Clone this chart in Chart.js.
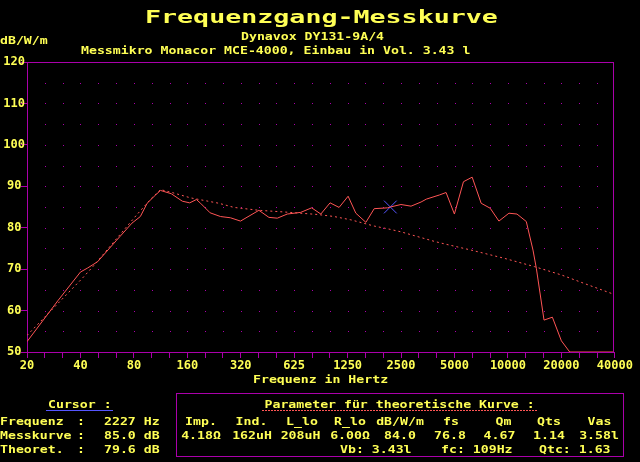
<!DOCTYPE html>
<html>
<head>
<meta charset="utf-8">
<script src="https://cdn.jsdelivr.net/npm/chart.js@4.4.1/dist/chart.umd.min.js"></script>
<style>
  html, body { margin: 0; padding: 0; background: #000; }
  canvas { display: block; }
</style>
</head>
<body>
<canvas id="kurve" width="640" height="462"></canvas>
<script>
// Messkurve (Hz / dB)
const messFreq = [20, 30, 40, 44, 50, 64, 78, 87, 95, 106, 113, 130, 150, 165, 180, 190, 215, 246, 280, 319, 405, 461, 514, 585, 696, 803, 904, 1019, 1146, 1288, 1424, 1622, 1807, 2151, 2227, 2557, 2913, 3317, 3553, 4208, 4590, 5113, 5750, 6437, 7236, 8135, 9107, 10370, 11513, 12990, 14170, 14800, 16350, 18220, 20480, 22820, 40000];
const messDb   = [52.5, 62.5, 69.3, 70.3, 71.8, 77.0, 81.1, 82.7, 85.9, 87.9, 89.0, 88.2, 86.4, 86.0, 86.8, 85.9, 83.6, 82.7, 82.4, 81.6, 84.2, 82.5, 82.3, 83.3, 83.7, 84.8, 83.3, 86.0, 84.9, 87.6, 83.5, 81.3, 84.6, 84.8, 85.0, 85.6, 85.2, 86.2, 86.9, 87.9, 88.5, 83.3, 91.1, 92.2, 85.9, 84.7, 81.6, 83.5, 83.3, 81.5, 74.6, 70.2, 57.7, 58.4, 52.7, 50.0, 50.0];

// theoretische Kurve
const theoFreq = [20, 25, 41, 47, 83, 100, 113, 131, 167, 241, 293, 405, 561, 865, 1074, 1335, 1807, 2227, 2557, 3943, 4590, 6353, 9797, 14470, 20480, 28970, 40000];
const theoDb   = [54.0, 58.3, 67.8, 70.6, 83.1, 87.0, 89.2, 88.5, 87.2, 85.9, 84.9, 84.2, 83.8, 83.2, 82.7, 81.9, 80.4, 79.6, 79.0, 76.7, 76.0, 74.6, 72.6, 70.6, 68.6, 66.2, 64.0];

const cursorFreq = [2227];
const cursorDb = [85.0];

const xTickLabels = ['20', '40', '80', '160', '320', '625', '1250', '2500', '5000', '10000', '20000', '40000'];
const yTicks = [50, 60, 70, 80, 90, 100, 110, 120];

const GELB = '#ffff55';
const MAGENTA = '#aa00aa';
const ROT = '#ff5555';
const BLAU = '#5555ff';
const FONT = '"DejaVu Sans Mono", "Liberation Mono", monospace';

// Terz-Teilung: 3 Striche pro Oktave
const terzen = [];
for (let k = 0; k <= 33; k++) terzen.push(20 * Math.pow(2, k / 3));

function schreibe(ctx, s, x, y, opt) {
  const o = Object.assign({ size: 11, sx: 1.2, align: 'left', color: GELB, bold: true }, opt || {});
  ctx.save();
  ctx.translate(x, y);
  ctx.scale(o.sx, 1);
  ctx.font = (o.bold ? 'bold ' : '') + o.size + 'px ' + FONT;
  ctx.fillStyle = o.color;
  ctx.textAlign = o.align;
  ctx.textBaseline = 'alphabetic';
  ctx.fillText(s, 0, 0);
  ctx.restore();
}

const deko = {
  id: 'deko',
  beforeDatasetsDraw(chart) {
    const { ctx, chartArea: a, scales: { x, y } } = chart;
    ctx.save();
    ctx.fillStyle = MAGENTA;
    for (let k = 1; k < terzen.length - 1; k++) {
      const px = Math.round(x.getPixelForValue(terzen[k]));
      for (let v = 55; v < 120; v += 5) {
        const py = Math.round(y.getPixelForValue(v));
        ctx.fillRect(px, py, 1, 1);
      }
    }
    ctx.strokeStyle = MAGENTA;
    ctx.lineWidth = 1;
    ctx.strokeRect(a.left + 0.5, a.top + 0.5, a.right - a.left, a.bottom - a.top);
    ctx.restore();
  },
  afterDraw(chart) {
    const ctx = chart.ctx;
    // Kopf
    schreibe(ctx, 'Frequenzgang-Messkurve', 145, 23, { size: 18, sx: 1.48 });
    schreibe(ctx, 'Dynavox DY131-9A/4', 241, 39.5);
    schreibe(ctx, 'dB/W/m', 0, 44);
    schreibe(ctx, 'Messmikro Monacor MCE-4000, Einbau in Vol. 3.43 l', 81, 54);
    schreibe(ctx, 'Frequenz in Hertz', 253, 383);

    // Cursor-Block
    schreibe(ctx, 'Cursor :', 48, 407.5);
    ctx.save();
    ctx.fillStyle = BLAU;
    ctx.fillRect(46, 410, 67, 1);
    ctx.restore();
    const links = [['Frequenz', '2227 Hz', 425], ['Messkurve', '85.0 dB', 438.5], ['Theoret.', '79.6 dB', 452.5]];
    links.forEach(([l, w, yy]) => {
      schreibe(ctx, l, 0, yy);
      schreibe(ctx, ':', 77, yy);
      schreibe(ctx, w, 104, yy);
    });

    // Parameter-Kasten
    ctx.save();
    ctx.strokeStyle = MAGENTA;
    ctx.lineWidth = 1;
    ctx.strokeRect(176.5, 393.5, 447, 63);
    ctx.fillStyle = ROT;
    for (let xx = 262; xx < 537; xx += 3) ctx.fillRect(xx, 410, 2, 1);
    ctx.restore();
    schreibe(ctx, 'Parameter für theoretische Kurve :', 264.5, 407.5);

    const kopf = [['Imp.', 201], ['Ind.', 251.5], ['L_lo', 302], ['R_lo', 350], ['dB/W/m', 400], ['fs', 451], ['Qm', 503.5], ['Qts', 549], ['Vas', 599.5]];
    const werte = [['4.18Ω', 201], ['162uH', 252], ['208uH', 300.5], ['6.00Ω', 350], ['84.0', 400], ['76.8', 450], ['4.67', 499.5], ['1.14', 549], ['3.58l', 599]];
    kopf.forEach(([s, xx]) => schreibe(ctx, s, xx, 425, { align: 'center' }));
    werte.forEach(([s, xx]) => schreibe(ctx, s, xx, 438.5, { align: 'center' }));
    schreibe(ctx, 'Vb: 3.43l', 340, 452.5);
    schreibe(ctx, 'fc: 109Hz', 441, 452.5);
    schreibe(ctx, 'Qtc: 1.63', 539, 452.5);
  }
};

const punkte = (fs, ds) => fs.map((f, i) => ({ x: f, y: ds[i] }));

new Chart(document.getElementById('kurve'), {
  type: 'scatter',
  data: {
    datasets: [
      {
        label: 'Theoretisch',
        data: punkte(theoFreq, theoDb),
        showLine: true,
        borderColor: ROT,
        borderWidth: 1,
        borderDash: [2, 3],
        pointRadius: 0,
        tension: 0
      },
      {
        label: 'Messkurve',
        data: punkte(messFreq, messDb),
        showLine: true,
        borderColor: ROT,
        borderWidth: 1,
        pointRadius: 0,
        tension: 0
      },
      {
        label: 'Cursor',
        data: punkte(cursorFreq, cursorDb),
        showLine: false,
        pointStyle: 'crossRot',
        pointRadius: 9,
        borderColor: BLAU,
        borderWidth: 1
      }
    ]
  },
  options: {
    responsive: false,
    animation: false,
    events: [],
    layout: { padding: { left: 0, top: 62, right: 27, bottom: 90 } },
    plugins: { legend: { display: false }, tooltip: { enabled: false } },
    scales: {
      x: {
        type: 'logarithmic',
        min: 20,
        max: 40000,
        afterBuildTicks: (s) => { s.ticks = terzen.map(v => ({ value: v })); },
        afterFit: (s) => { s.height = 20; },
        border: { display: false },
        grid: { drawOnChartArea: false, drawTicks: true, tickLength: 6, color: MAGENTA },
        ticks: {
          autoSkip: false,
          maxRotation: 0,
          padding: 1,
          color: GELB,
          font: { family: FONT, size: 12, weight: 'bold' },
          callback: (v, i) => (i % 3 === 0 ? xTickLabels[i / 3] : '')
        }
      },
      y: {
        type: 'linear',
        min: 50,
        max: 120,
        afterBuildTicks: (s) => { s.ticks = yTicks.map(v => ({ value: v })); },
        afterFit: (s) => { s.width = 27; },
        border: { display: false },
        grid: { drawOnChartArea: false, drawTicks: true, tickLength: 6, color: MAGENTA },
        ticks: {
          crossAlign: 'center',
          padding: -4,
          color: GELB,
          font: { family: FONT, size: 12, weight: 'bold' }
        }
      }
    }
  },
  plugins: [deko]
});
</script>
</body>
</html>
